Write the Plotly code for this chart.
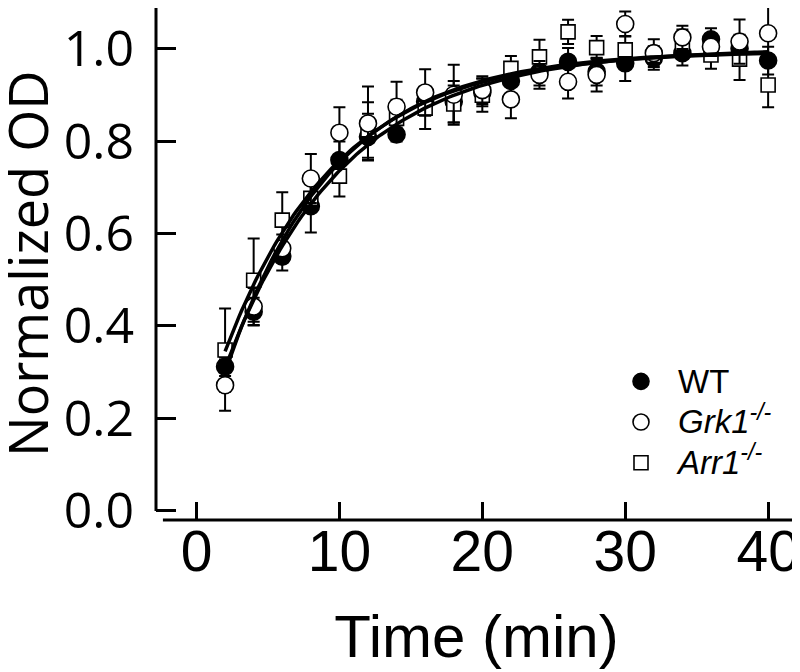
import numpy as np
import plotly.graph_objects as go

# ---------------- data ----------------
time_min = [2, 4, 6, 8, 10, 12, 14, 16, 18, 20, 22, 24, 26, 28, 30, 32, 34, 36, 38, 40]

wt_mean = [0.312, 0.431, 0.550, 0.659, 0.759, 0.809, 0.814, 0.885, 0.885, 0.905,
           0.930, 0.950, 0.971, 0.950, 0.968, 0.979, 0.990, 1.020, 1.000, 0.974]
wt_err = [0.020, 0.030, 0.030, 0.057, 0.040, 0.050, 0.015, 0.030, 0.045, 0.030,
          0.030, 0.030, 0.030, 0.030, 0.038, 0.025, 0.027, 0.024, 0.030, 0.030]

grk1_mean = [0.272, 0.442, 0.568, 0.719, 0.818, 0.838, 0.874, 0.905, 0.900, 0.910,
             0.890, 0.943, 0.928, 0.943, 1.053, 0.990, 1.024, 1.004, 1.015, 1.033]
grk1_err = [0.055, 0.040, 0.030, 0.053, 0.055, 0.080, 0.054, 0.050, 0.065, 0.030,
            0.041, 0.030, 0.036, 0.036, 0.027, 0.030, 0.025, 0.020, 0.048, 0.066]

arr1_mean = [0.348, 0.499, 0.629, 0.676, 0.724, 0.824, 0.849, 0.871, 0.880, 0.899,
             0.957, 0.982, 1.036, 1.002, 0.997, 0.985, 1.011, 0.986, 0.977, 0.921]
arr1_err = [0.090, 0.090, 0.060, 0.030, 0.044, 0.060, 0.040, 0.045, 0.040, 0.036,
            0.027, 0.037, 0.026, 0.025, 0.030, 0.020, 0.030, 0.030, 0.045, 0.048]

# single-exponential fit parameters: y = A - (A - y_start) * exp(-k (t - t_start))
fit_names = ["WT", "Grk1", "Arr1"]
fit_plateau = [1.000, 0.995, 0.995]
fit_start = [0.310, 0.300, 0.345]
fit_rate = [0.120, 0.132, 0.126]

x_ticks = [0, 10, 20, 30, 40]
y_ticks = [0.0, 0.2, 0.4, 0.6, 0.8, 1.0]
y_ticklabels = ["0.0", "0.2", "0.4", "0.6", "0.8", "1.0"]

x_title = "Time (min)"
y_title = "Normalized OD"
legend_labels = ["WT", "<i>Grk1<sup>-/-</sup></i>", "<i>Arr1<sup>-/-</sup></i>"]

# ---------------- figure ----------------
W, H = 800, 672
OFF = 8  # page body margin
ML, MR, MT, MB = 156 - OFF, 11, 0, 160
PW, PH = W - ML - MR, H - MT - MB
x_range = [-2.834, 42.02]
y_range = [-0.0195, 1.0876]

fig = go.Figure()

def add_series(y, err, name, symbol, fill, size, rank):
    fig.add_trace(go.Scatter(
        x=time_min, y=y, mode="markers", legendrank=rank,
        name='<span style="font-size:33px">' + name + '</span>',
        marker=dict(symbol=symbol, size=size, color=fill,
                    line=dict(color="black", width=1.6)),
        error_y=dict(type="data", array=err, visible=True,
                     color="black", thickness=2, width=6),
        showlegend=True,
    ))

add_series(wt_mean, wt_err, legend_labels[0], "circle", "black", 17, 1)
add_series(arr1_mean, arr1_err, legend_labels[2], "square", "white", 14, 3)
add_series(grk1_mean, grk1_err, legend_labels[1], "circle", "white", 17, 2)

t_fit = np.linspace(time_min[0], time_min[-1], 200)
for A, y0, k in zip(fit_plateau, fit_start, fit_rate):
    y_fit = A - (A - y0) * np.exp(-k * (t_fit - time_min[0]))
    fig.add_trace(go.Scatter(x=t_fit, y=y_fit, mode="lines",
                             line=dict(color="black", width=3.5),
                             showlegend=False, hoverinfo="skip"))

# detached axis lines (SigmaPlot style)
fig.add_shape(type="line", xref="paper", yref="y", x0=0, x1=0,
              y0=0, y1=y_range[1], line=dict(color="black", width=3))
fig.add_shape(type="line", xref="x", yref="paper", x0=-2.35, x1=x_range[1],
              y0=0, y1=0, line=dict(color="black", width=3))

# y-axis title
fig.add_annotation(text=y_title, textangle=-90, showarrow=False,
                   xref="paper", yref="paper",
                   x=(27 - OFF - ML) / PW, y=1 - (264 - OFF - MT) / PH,
                   xanchor="center", yanchor="middle",
                   font=dict(family="Open Sans, sans-serif", size=54, color="black"))

fig.update_layout(
    width=W, height=H,
    margin=dict(l=ML, r=MR, t=MT, b=MB, autoexpand=False),
    paper_bgcolor="white", plot_bgcolor="white",
    showlegend=True,
    legend=dict(x=(596 - ML) / PW, y=1 - (348 - MT) / PH,
                xanchor="left", yanchor="top",
                font=dict(family="Liberation Sans, Arial, sans-serif", size=29, color="black"),
                bgcolor="rgba(0,0,0,0)", itemwidth=64, traceorder="normal"),
    xaxis=dict(range=x_range, tickvals=x_ticks, ticks="inside", ticklen=18,
               tickwidth=3, tickcolor="black", showline=False, showgrid=False,
               zeroline=False, automargin=True,
               tickfont=dict(family="Liberation Sans, Arial, sans-serif", size=57, color="black"),
               ticklabelstandoff=-7,
               title=dict(text=x_title, standoff=32,
                          font=dict(family="Liberation Sans, Arial, sans-serif", size=60, color="black"))),
    yaxis=dict(range=y_range, tickvals=y_ticks, ticktext=y_ticklabels,
               ticks="inside", ticklen=20, tickwidth=3, tickcolor="black",
               showline=False, showgrid=False, zeroline=False, automargin=True,
               tickfont=dict(family="Open Sans, sans-serif", size=50, color="black"),
               ticklabelstandoff=21),
)

fig.write_html("out.html")
